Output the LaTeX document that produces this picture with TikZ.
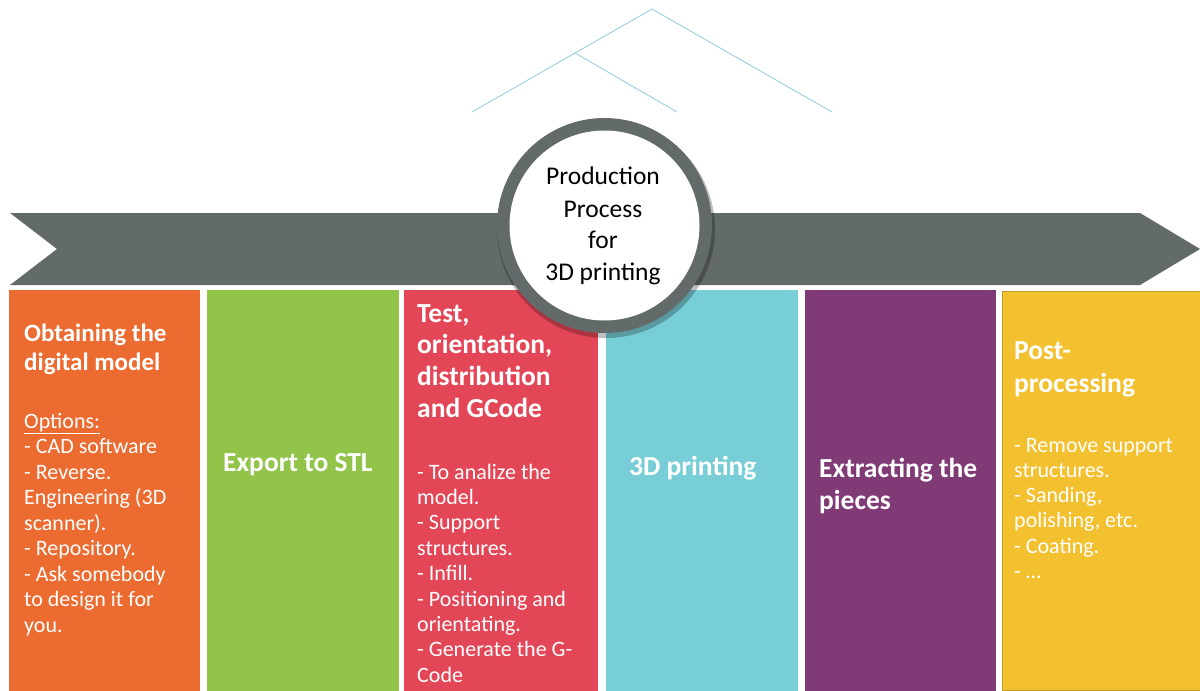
\documentclass[tikz,border=0pt]{standalone}
\usepackage{fontspec}
\setmainfont{Carlito}
\definecolor{cOrange}{RGB}{236,107,49}
\definecolor{cGreen}{RGB}{146,196,74}
\definecolor{cRed}{RGB}{227,71,87}
\definecolor{cCyan}{RGB}{120,206,214}
\definecolor{cPurple}{RGB}{128,59,118}
\definecolor{cYellow}{RGB}{243,192,47}
\definecolor{cGray}{RGB}{98,106,106}
\definecolor{cLine}{RGB}{160,210,228}
\begin{document}
\begin{tikzpicture}[x=1pt,y=-1pt,
  thinline/.style={draw=cLine,line width=1pt},
  col/.style={inner sep=0pt},
  title/.style={anchor=base west,inner sep=0pt,text=white,font=\fontsize{27.5}{31.5}\selectfont\bfseries},
  body/.style={anchor=base west,inner sep=0pt,text=white,font=\fontsize{22}{25.5}\selectfont},
  ctext/.style={inner sep=0pt,text=black,font=\fontsize{25.5}{32}\selectfont}]
\useasboundingbox (0,0) rectangle (1200,691);
% thin roof lines
\coordinate (apex) at (652,9);
\coordinate (br) at (575,53);
\coordinate (l1) at (472,112);
\coordinate (l2) at (677,112);
\coordinate (l3) at (832,112);
\draw[thinline] (l1) -- (br) -- (apex) -- (l3);
\draw[thinline] (br) -- (l2);
% arrow band
\fill[cGray] (10,213) -- (1140,213) -- (1200,249) -- (1140,285) -- (10,285) -- (57,249) -- cycle;
% columns
\fill[cOrange] (9,290) rectangle (200,691);
\fill[cGreen] (207,290) rectangle (399,691);
\fill[cRed] (404,290) rectangle (598,691);
\fill[cCyan] (606,290) rectangle (798,691);
\fill[cPurple] (805,290) rectangle (996,691);
\fill[cYellow,draw=cYellow!80!black,line width=0.8pt] (1002.5,291) rectangle (1200,690.5);
% circle
\fill[black,opacity=0.25] (606,229) circle (109);
\fill[cGray] (604.5,225.5) circle (107.5);
\fill[white] (604.5,225.5) circle (95);
\node[ctext,anchor=base] (c1) at (603,184) {Production};
\node[ctext,anchor=base] (c2) at (603,217) {Process};
\node[ctext,anchor=base] (c3) at (603,248) {for};
\node[ctext,anchor=base] (c4) at (603,280) {3D printing};
% column texts
\node[title,font=\fontsize{25}{29}\selectfont\bfseries] (t1) at (24,341) {\vtop{\baselineskip=29pt\hbox{Obtaining the}\hbox{digital model}}};
\node[body] (b1) at (24,428) {\vtop{\baselineskip=25.5pt
  \hbox{\underline{Options:}}\hbox{- CAD software}\hbox{- Reverse.}\hbox{Engineering (3D}\hbox{scanner).}\hbox{- Repository.}\hbox{- Ask somebody}\hbox{to design it for}\hbox{you.}}};
\node[title] (t2) at (223,471) {Export to STL};
\node[title] (t3) at (417,322) {\vtop{\baselineskip=31.7pt\hbox{Test,}\hbox{orientation,}\hbox{distribution}\hbox{and GCode}}};
\node[body] (b3) at (417,479) {\vtop{\baselineskip=25.4pt
  \hbox{- To analize the}\hbox{model.}\hbox{- Support}\hbox{structures.}\hbox{- Infill.}\hbox{- Positioning and}\hbox{orientating.}\hbox{- Generate the G-}\hbox{Code}}};
\node[title] (t4) at (629,475) {3D printing};
\node[title] (t5) at (819,477) {\vtop{\baselineskip=32pt\hbox{Extracting the}\hbox{pieces}}};
\node[title] (t6) at (1014,359) {\vtop{\baselineskip=33pt\hbox{Post-}\hbox{processing}}};
\node[body] (b6) at (1014,452) {\vtop{\baselineskip=25.3pt
  \hbox{- Remove support}\hbox{structures.}\hbox{- Sanding,}\hbox{polishing, etc.}\hbox{- Coating.}\hbox{- \dots}}};
\end{tikzpicture}
\end{document}
